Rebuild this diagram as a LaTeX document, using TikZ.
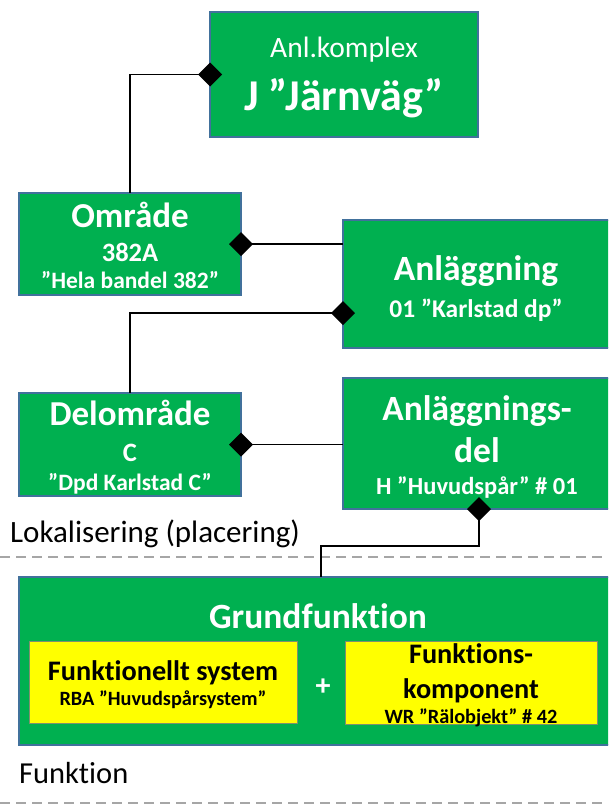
\documentclass[tikz,border=0pt]{standalone}
\usepackage{fontspec}
\setmainfont{Carlito}[Ligatures=NoCommon]
\usetikzlibrary{arrows.meta}
\definecolor{boxgreen}{HTML}{00B050}
\definecolor{boxedge}{HTML}{41719C}
\definecolor{boxyellow}{HTML}{FFFF00}
\definecolor{yellowedge}{HTML}{7F8F6F}
\definecolor{sepgray}{HTML}{A6A6A6}
\newcommand{\fs}[1]{\fontsize{#1}{1.2\dimexpr#1pt\relax}\selectfont}
\begin{document}
\begin{tikzpicture}[x=1pt,y=-1pt,
  greenbox/.style={draw=boxedge, line width=1.5pt, fill=boxgreen,
    anchor=north west, inner sep=0pt, outer sep=0pt},
  yellowbox/.style={draw=yellowedge, line width=1pt, fill=boxyellow,
    anchor=north west, inner sep=0pt, outer sep=0pt},
  wtext/.style={text=white, anchor=base, inner sep=0pt},
  btext/.style={text=black, anchor=base, inner sep=0pt},
  caption/.style={text=black, anchor=base west, inner sep=0pt},
  conn/.style={draw=black, line width=1.7pt,
    {Diamond[length=24pt,width=24pt]}-, shorten <=-12pt},
  separator/.style={draw=sepgray, line width=1.6pt, dash pattern=on 10pt off 6pt}]

\useasboundingbox (0,0) rectangle (608,806);
\clip (0,0) rectangle (608,806);

% boxes
\node[greenbox, minimum width=268pt, minimum height=125pt] (komplex) at (210,12) {};
\node[greenbox, minimum width=222pt, minimum height=102pt] (omrade) at (19,193) {};
\node[greenbox, minimum width=272pt, minimum height=128pt] (anl) at (343,220) {};
\node[greenbox, minimum width=222pt, minimum height=103pt] (delomr) at (19,393) {};
\node[greenbox, minimum width=272pt, minimum height=131pt] (anldel) at (343,378) {};
\node[greenbox, minimum width=600pt, minimum height=168pt] (grund) at (19,577) {};
\node[yellowbox, minimum width=268pt, minimum height=82pt] (fsys) at (29,641) {};
\node[yellowbox, minimum width=252pt, minimum height=83pt] (fkomp) at (345,641) {};

% box texts
\node[wtext, font=\fs{29.5}] (komplex-a) at (344,57) {Anl.komplex};
\node[wtext, font=\fs{44}\bfseries] (komplex-b) at (344,110) {J ”Järnväg”};

\node[wtext, font=\fs{35}\bfseries] (omrade-a) at (130,227) {Område};
\node[wtext, font=\fs{26.5}\bfseries] (omrade-b) at (130,261) {382A};
\node[wtext, font=\fs{23.5}\bfseries] (omrade-c) at (130,288) {”Hela bandel 382”};

\node[wtext, font=\fs{35.5}\bfseries] (anl-a) at (476,280) {Anläggning};
\node[wtext, font=\fs{25.5}\bfseries] (anl-b) at (476,317) {01 ”Karlstad dp”};

\node[wtext, font=\fs{35}\bfseries] (delomr-a) at (130,425) {Delområde};
\node[wtext, font=\fs{26.5}\bfseries] (delomr-b) at (130,461) {C};
\node[wtext, font=\fs{23.5}\bfseries] (delomr-c) at (130,490) {”Dpd Karlstad C”};

\node[wtext, font=\fs{35.5}\bfseries] (anldel-a) at (477,420) {Anläggnings-};
\node[wtext, font=\fs{35.5}\bfseries] (anldel-b) at (477,462) {del};
\node[wtext, font=\fs{24.5}\bfseries] (anldel-c) at (477,494) {H ”Huvudspår” \# 01};

\node[wtext, font=\fs{35.5}\bfseries] (grund-a) at (318,628) {Grundfunktion};
\node[btext, font=\fs{28.3}\bfseries] (fsys-a) at (163,680) {Funktionellt system};
\node[btext, font=\fs{20.3}\bfseries] (fsys-b) at (163,705) {RBA ”Huvudspårsystem”};
\node[wtext, font=\fs{30}\bfseries, anchor=center] (plus) at (323,687) {+};
\node[btext, font=\fs{28.3}\bfseries] (fkomp-a) at (471,663) {Funktions-};
\node[btext, font=\fs{28.3}\bfseries] (fkomp-b) at (471,698) {komponent};
\node[btext, font=\fs{20.3}\bfseries] (fkomp-c) at (471,723) {WR ”Rälobjekt” \# 42};

% section captions and separators
\node[caption, font=\fs{31}] (lok) at (10,542) {Lokalisering (placering)};
\node[caption, font=\fs{30.5}] (funk) at (19,783) {Funktion};
\coordinate (sep1l) at (0,557);
\coordinate (sep1r) at (608,557);
\coordinate (sep2l) at (0,803);
\coordinate (sep2r) at (608,803);
\draw[separator] (sep1l) -- (sep1r);
\draw[separator] (sep2l) -- (sep2r);

% aggregation connectors
\draw[conn] (komplex.west) -| (omrade.north);
\draw[conn] (omrade.east) -- (omrade.east -| anl.west);
\draw[conn] ([yshift=-29pt]anl.west) -| (delomr.north);
\draw[conn] (delomr.east) -- (delomr.east -| anldel.west);
\draw[conn] (anldel.south) -- ++(0,37) -| ([xshift=2pt]grund.north);
\end{tikzpicture}
\end{document}
